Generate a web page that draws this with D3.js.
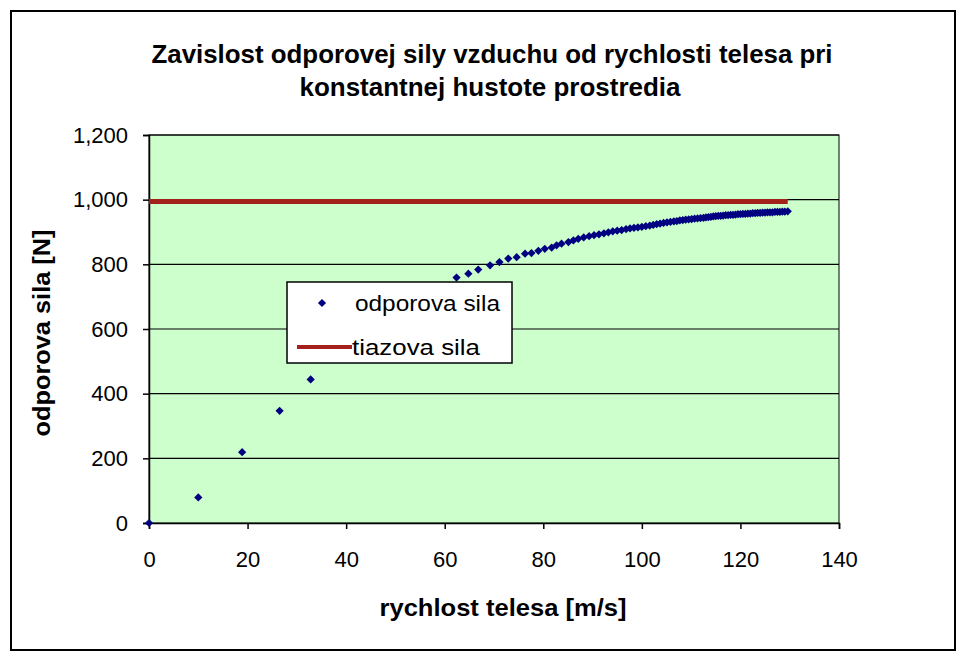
<!DOCTYPE html>
<html>
<head>
<meta charset="utf-8">
<script src="https://cdn.jsdelivr.net/npm/d3@7"></script>
<style>
  body { margin: 0; background: #fff; }
  text { font-family: "Liberation Sans", Arial, sans-serif; fill: #000; }
</style>
</head>
<body>
<div id="chart"></div>
<script>
// odporova sila: rychlost [m/s] a sila [N], odcitane z grafu
const speed = [0, 10.0, 18.9, 26.5, 32.8,
  62.4, 64.8, 66.8, 69.2, 71.1, 72.9, 74.6, 76.3, 77.6, 79.0, 80.3, 81.7, 82.7, 83.7, 85.1, 86.1, 87.1,
  88.2, 89.3, 90.3, 91.3, 92.3, 93.2, 94.1, 95.0, 95.9, 96.8, 97.6, 98.4, 99.2, 100.0,
  100.8, 101.6, 102.3, 103.0, 103.7, 104.4, 105.1, 105.8, 106.5, 107.1, 107.7, 108.3, 108.9, 109.5, 110.1,
  110.7, 111.3, 111.9, 112.5, 113.0, 113.5, 114.0, 114.5, 115.0, 115.5, 116.0, 116.5, 117.0, 117.5, 118.0,
  118.5, 119.0, 119.5, 120.0, 120.5, 121.0, 121.5, 122.0, 122.5, 123.0, 123.5, 124.0, 124.5, 125.0,
  125.5, 126.0, 126.5, 127.0, 127.5, 128.0, 128.5, 129.0, 129.6];
const drag = [0, 79, 219, 347, 444,
  759, 771, 784, 797, 807, 818, 822, 833, 835, 842, 848, 852, 859, 864, 869, 874, 879,
  883, 887, 890, 893, 896, 899, 902, 904, 906, 909, 911, 913, 914, 916,
  918, 920, 922, 924, 926, 928, 930, 931, 933, 934, 936, 937, 938, 939, 940,
  941, 942, 943, 944, 945, 946, 947, 948, 949, 950, 950, 951, 952, 952, 953,
  953, 954, 955, 955, 956, 956, 957, 957, 958, 958, 959, 959, 960, 960,
  961, 961, 961, 962, 962, 962, 963, 963, 964];

// tiazova sila (konstantna)
const weightX = [0, 129.6];
const weightY = [994, 994];

const xTicks = [0, 20, 40, 60, 80, 100, 120, 140];
const yTicks = [0, 200, 400, 600, 800, 1000, 1200];

const titleLines = ['Zavislost odporovej sily vzduchu od rychlosti telesa pri', 'konstantnej hustote prostredia'];
const xTitle = 'rychlost telesa [m/s]';
const yTitle = 'odporova sila [N]';
const legendNames = ['odporova sila', 'tiazova sila'];

const W = 969, H = 663;
const pLeft = 149, pRight = 839, pTop = 135, pBottom = 523;
const font = '"Liberation Sans", Arial, sans-serif';

const svg = d3.select('#chart').append('svg')
    .attr('width', W).attr('height', H);

svg.append('rect').attr('width', W).attr('height', H).attr('fill', '#fff');
// ramcek grafu
svg.append('rect')
    .attr('x', 11).attr('y', 11).attr('width', 944).attr('height', 639)
    .attr('fill', 'none').attr('stroke', '#000').attr('stroke-width', 2);

const x = d3.scaleLinear().domain([0, 140]).range([pLeft, pRight]);
const y = d3.scaleLinear().domain([0, 1200]).range([pBottom, pTop]);

// plocha grafu
svg.append('rect')
    .attr('x', pLeft).attr('y', pTop)
    .attr('width', pRight - pLeft).attr('height', pBottom - pTop)
    .attr('fill', '#ccffcc').attr('stroke', '#000').attr('stroke-width', 1);

svg.append('g').selectAll('line')
    .data(yTicks.slice(1))
    .join('line')
    .attr('x1', pLeft).attr('x2', pRight)
    .attr('y1', d => y(d)).attr('y2', d => y(d))
    .attr('stroke', '#000').attr('stroke-width', 1.2);

const xAxis = svg.append('g')
    .attr('transform', `translate(0,${pBottom})`)
    .call(d3.axisBottom(x).tickValues(xTicks).tickSize(6).tickPadding(22));
const yAxis = svg.append('g')
    .attr('transform', `translate(${pLeft},0)`)
    .call(d3.axisLeft(y).tickValues(yTicks).tickSize(6).tickPadding(15).tickFormat(d3.format(',')));

[xAxis, yAxis].forEach(a => {
  a.select('.domain').attr('stroke', '#000').attr('stroke-width', 1.5);
  a.selectAll('.tick line').attr('stroke', '#000').attr('stroke-width', 1.5);
  a.selectAll('.tick text').attr('font-size', 22).attr('fill', '#000')
      .attr('font-family', font);
});

// tiazova sila
const line = d3.line().x(d => x(d[0])).y(d => y(d[1]));
svg.append('path')
    .datum(d3.zip(weightX, weightY))
    .attr('d', line)
    .attr('fill', 'none').attr('stroke', '#a3201b').attr('stroke-width', 5);

// odporova sila - body
const diamond = d3.symbol(d3.symbolSquare, 34);
svg.append('g').selectAll('path')
    .data(d3.zip(speed, drag))
    .join('path')
    .attr('d', diamond)
    .attr('transform', d => `translate(${x(d[0])},${y(d[1])}) rotate(45)`)
    .attr('fill', '#000080');

// nadpis
const titleWidths = [681, 381];
svg.append('g').selectAll('text')
    .data(titleLines)
    .join('text')
    .text(d => d)
    .attr('x', (d, i) => i === 0 ? 492 : 490).attr('y', (d, i) => 63 + i * 33)
    .attr('text-anchor', 'middle')
    .attr('textLength', (d, i) => titleWidths[i]).attr('lengthAdjust', 'spacingAndGlyphs')
    .attr('font-size', 25).attr('font-weight', 'bold');

svg.append('text').text(xTitle)
    .attr('x', 503).attr('y', 616)
    .attr('text-anchor', 'middle')
    .attr('textLength', 247).attr('lengthAdjust', 'spacingAndGlyphs')
    .attr('font-size', 24).attr('font-weight', 'bold');

svg.append('text').text(yTitle)
    .attr('transform', 'translate(50,333) rotate(-90)')
    .attr('text-anchor', 'middle')
    .attr('textLength', 207).attr('lengthAdjust', 'spacingAndGlyphs')
    .attr('font-size', 24).attr('font-weight', 'bold');

// legenda
const lg = svg.append('g').attr('transform', 'translate(287,282)');
lg.append('rect').attr('width', 225).attr('height', 81)
    .attr('fill', '#fff').attr('stroke', '#000').attr('stroke-width', 1.5);
lg.append('path').attr('d', diamond)
    .attr('transform', 'translate(35,21) rotate(45)').attr('fill', '#000080');
lg.append('line').attr('x1', 10).attr('x2', 65).attr('y1', 65).attr('y2', 65)
    .attr('stroke', '#a3201b').attr('stroke-width', 4);
const legendWidths = [145, 128];
lg.selectAll('text.name')
    .data(legendNames)
    .join('text')
    .attr('class', 'name')
    .text(d => d)
    .attr('x', (d, i) => i === 0 ? 68 : 65)
    .attr('y', (d, i) => 29 + i * 44)
    .attr('textLength', (d, i) => legendWidths[i]).attr('lengthAdjust', 'spacingAndGlyphs')
    .attr('font-size', 22);
</script>
</body>
</html>
